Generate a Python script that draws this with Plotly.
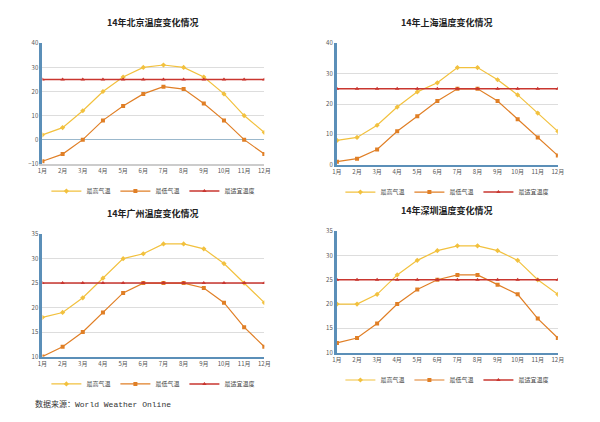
import plotly.graph_objects as go

months = [f"{i}月" for i in range(1, 13)]
cities = ["北京", "上海", "广州", "深圳"]
high = {
    "北京": [2, 5, 12, 20, 26, 30, 31, 30, 26, 19, 10, 3],
    "上海": [8, 9, 13, 19, 24, 27, 32, 32, 28, 23, 17, 11],
    "广州": [18, 19, 22, 26, 30, 31, 33, 33, 32, 29, 25, 21],
    "深圳": [20, 20, 22, 26, 29, 31, 32, 32, 31, 29, 25, 22],
}
low = {
    "北京": [-9, -6, 0, 8, 14, 19, 22, 21, 15, 8, 0, -6],
    "上海": [1, 2, 5, 11, 16, 21, 25, 25, 21, 15, 9, 3],
    "广州": [10, 12, 15, 19, 23, 25, 25, 25, 24, 21, 16, 12],
    "深圳": [12, 13, 16, 20, 23, 25, 26, 26, 24, 22, 17, 13],
}
comfort = [25] * 12
yranges = {"北京": (-10, 40, 10), "上海": (0, 40, 10), "广州": (10, 35, 5), "深圳": (10, 35, 5)}

W, H = 600, 422
OFF = 8  # page margin shifts the figure
# pixel boxes in the reference: x0, x1, ytop, ybottom
boxes = {
    "北京": (38, 264, 39, 162),
    "上海": (338, 563, 39, 163),
    "广州": (38, 264, 234, 359),
    "深圳": (338, 563, 231, 355),
}


def px(v):
    return (v - OFF) / W


def py_(v):
    return 1 - (v - OFF) / H


fig = go.Figure()
annotations = []
for i, city in enumerate(cities):
    n = "" if i == 0 else str(i + 1)
    x0, x1, yt, yb = boxes[city]
    lg = "legend" + n
    xa, ya = "x" + n, "y" + n
    fig.add_trace(go.Scatter(x=months, y=high[city], name="最高气温", mode="lines+markers",
                             line=dict(color="#F2C13E", width=1.2), marker=dict(size=4, symbol="diamond"),
                             xaxis=xa, yaxis=ya, legend=lg))
    fig.add_trace(go.Scatter(x=months, y=low[city], name="最低气温", mode="lines+markers",
                             line=dict(color="#E07F26", width=1.2), marker=dict(size=4, symbol="square"),
                             xaxis=xa, yaxis=ya, legend=lg))
    fig.add_trace(go.Scatter(x=months, y=comfort, name="最适宜温度", mode="lines+markers",
                             line=dict(color="#C9362F", width=1.5), marker=dict(size=4, symbol="triangle-up"),
                             xaxis=xa, yaxis=ya, legend=lg))
    lo, hi, dt = yranges[city]
    fig.update_layout(**{
        "xaxis" + n: dict(domain=[px(x0), px(x1)], anchor=ya, range=[0, 11], showgrid=False,
                          showline=True, linecolor="#5B8FB8" if city != "北京" else "#cccccc", linewidth=2,
                          tickfont=dict(size=6, color="#555"), ticks=""),
        "yaxis" + n: dict(domain=[py_(yb), py_(yt)], anchor=xa, range=[lo, hi], dtick=dt,
                          showgrid=True, gridcolor="#dddddd", showline=True, linecolor="#5B8FB8",
                          linewidth=3, tickfont=dict(size=6, color="#555"), zeroline=(city == "北京"),
                          zerolinecolor="#9bb8cc", zerolinewidth=1),
        lg: dict(orientation="h", x=px((x0 + x1) / 2), xanchor="center", y=py_(yb + 28),
                 yanchor="middle", font=dict(size=6, color="#444"), bgcolor="rgba(0,0,0,0)",
                 itemwidth=30, tracegroupgap=0),
    })
    annotations.append(dict(text=f"<b>14年{city}温度变化情况</b>", x=px((x0 + x1) / 2),
                            y=py_(yt - 21), xref="paper", yref="paper", showarrow=False,
                            xanchor="center", yanchor="middle",
                            font=dict(size=9, color="#222")))

annotations.append(dict(text="数据来源：World Weather Online", x=px(28), y=py_(408), xref="paper",
                        yref="paper", xanchor="left", yanchor="middle", showarrow=False,
                        font=dict(size=8, color="#333", family="Liberation Mono, Noto Sans CJK SC")))

fig.update_layout(width=W, height=H, margin=dict(l=0, r=0, t=0, b=0), plot_bgcolor="white",
                  paper_bgcolor="white", annotations=annotations,
                  font=dict(family="Noto Sans CJK SC"))
fig.write_html("out.html")
